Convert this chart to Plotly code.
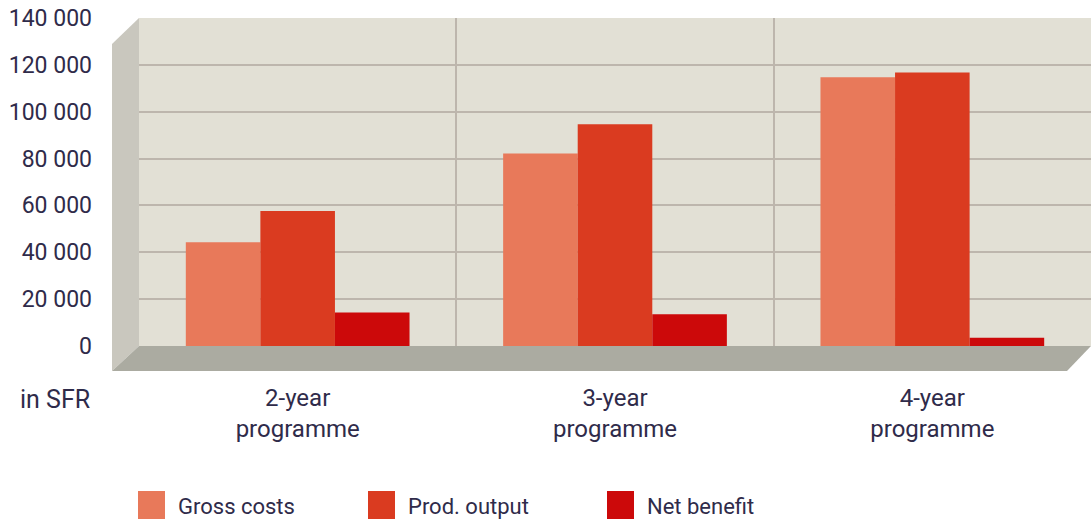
import plotly.graph_objects as go

# ---- data ----
categories = ["2-year<br>programme", "3-year<br>programme", "4-year<br>programme"]
series_names = ["Gross costs", "Prod. output", "Net benefit"]
gross_costs = [44300, 82200, 114700]
prod_output = [57600, 94600, 116700]
net_benefit = [14300, 13600, 3500]
y_tick_vals = [0, 20000, 40000, 60000, 80000, 100000, 120000, 140000]
y_tick_text = ["0", "20 000", "40 000", "60 000", "80 000", "100 000", "120 000", "140 000"]
unit_label = "in SFR"

# ---- style ----
W, H = 1091, 524
L, R, T, B = 139, 0, 18, 178
colors = ["#E8795A", "#DA3B20", "#CC090A"]
text_color = "#2f2b4a"
font_family = "Roboto"
wall_back = "#E2E0D5"
wall_left = "#C9C7BE"
floor_col = "#ABABA1"
grid_col = "#BDB6AD"

pw = W - L - R
ph = H - T - B


def px2paper(x, y):
    return (x - L) / pw, (H - B - y) / ph


def path(points):
    pts = [px2paper(x, y) for x, y in points]
    return "M " + " L ".join(f"{x:.5f},{y:.5f}" for x, y in pts) + " Z"


fig = go.Figure()
for name, vals, c in zip(series_names, [gross_costs, prod_output, net_benefit], colors):
    fig.add_trace(go.Bar(x=categories, y=vals, name=name, marker=dict(color=c, line=dict(width=0)),
                         showlegend=False))

floor_y = H - B
shapes = [
    # left wall
    dict(type="path", xref="paper", yref="paper", layer="below",
         path=path([(112, 44), (L, T), (L, floor_y), (112, floor_y + 25)]),
         fillcolor=wall_left, line=dict(width=0)),
    # floor
    dict(type="path", xref="paper", yref="paper", layer="below",
         path=path([(L, floor_y), (W, floor_y), (W - 24, floor_y + 25), (112, floor_y + 25)]),
         fillcolor=floor_col, line=dict(width=0)),
]

annotations = [
    dict(text=unit_label, xref="paper", yref="paper", x=(92 - L) / pw, y=px2paper(0, 399)[1],
         xanchor="right", yanchor="middle", showarrow=False,
         font=dict(family=font_family, size=25, color=text_color)),
]

# legend drawn manually
leg_x = [138, 368, 607]
for name, c, lx in zip(series_names, colors, leg_x):
    x0, y0 = px2paper(lx, 519)
    x1, y1 = px2paper(lx + 27, 491)
    shapes.append(dict(type="rect", xref="paper", yref="paper", x0=x0, x1=x1, y0=y0, y1=y1,
                       fillcolor=c, line=dict(width=0)))
    tx, ty = px2paper(lx + 38, 507)
    annotations.append(dict(text=name, xref="paper", yref="paper", x=tx, y=ty,
                            xanchor="left", yanchor="middle", showarrow=False,
                            font=dict(family=font_family, size=22, color=text_color)))

fig.update_layout(
    width=W, height=H,
    margin=dict(l=L, r=R, t=T, b=B, pad=0),
    paper_bgcolor="white",
    plot_bgcolor=wall_back,
    barmode="group",
    bargap=0.295,
    bargroupgap=0,
    shapes=shapes,
    annotations=annotations,
    font=dict(family=font_family, color=text_color),
    showlegend=False,
)
fig.update_yaxes(range=[0, 140000], tickvals=y_tick_vals, ticktext=y_tick_text,
                 showgrid=True, gridcolor=grid_col, gridwidth=2, zeroline=False,
                 ticks="", ticklabelstandoff=46, showline=False,
                 tickfont=dict(family=font_family, size=23, color=text_color))
fig.update_xaxes(showgrid=True, gridcolor=grid_col, gridwidth=2, tickson="boundaries",
                 ticks="", ticklabelstandoff=35, showline=False, zeroline=False,
                 tickfont=dict(family=font_family, size=24, color=text_color))

fig.write_html("out.html", config={"displayModeBar": False},
               post_script="document.body.style.margin='0';document.body.style.overflow='hidden';")
